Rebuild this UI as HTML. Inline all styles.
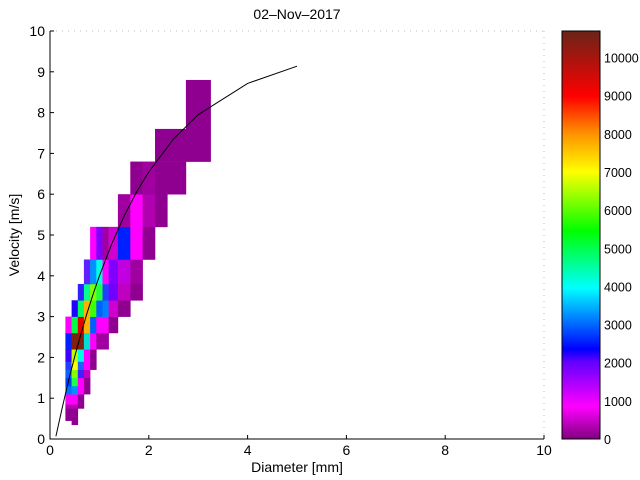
<!DOCTYPE html>
<html><head><meta charset="utf-8"><style>
body{margin:0;background:#fff;width:640px;height:480px;overflow:hidden}
svg{display:block}
text{font-family:"Liberation Sans",sans-serif;font-size:14px;fill:#000}
text.cb{font-size:12.5px}
</style></head><body>
<svg id="s" width="640" height="480" xmlns="http://www.w3.org/2000/svg">
<defs>
<linearGradient id="cb" x1="0" y1="1" x2="0" y2="0">
<stop offset="0" stop-color="#800080"/>
<stop offset="0.08" stop-color="#ff00ff"/>
<stop offset="0.19" stop-color="#6000ff"/>
<stop offset="0.22" stop-color="#0000ff"/>
<stop offset="0.37" stop-color="#00ffff"/>
<stop offset="0.51" stop-color="#00ff00"/>
<stop offset="0.655" stop-color="#ffff00"/>
<stop offset="0.75" stop-color="#ff9000"/>
<stop offset="0.84" stop-color="#ff0000"/>
<stop offset="1" stop-color="#6a2418"/>
</linearGradient>
</defs>
<g id="cells"></g>
<polyline id="curve" fill="none" stroke="#000" stroke-width="1"/>
<line x1="50" y1="31" x2="544" y2="31" stroke="#bbb" stroke-dasharray="1,5"/>
<line x1="544" y1="31" x2="544" y2="439" stroke="#bbb" stroke-dasharray="1,5"/>
<line x1="50" y1="31" x2="50" y2="439.5" stroke="#000"/>
<line x1="49.5" y1="439" x2="544" y2="439" stroke="#000"/>
<g id="ticks" stroke="#000"></g>
<text x="297" y="19" text-anchor="middle">02–Nov–2017</text>
<text x="297" y="472" text-anchor="middle">Diameter [mm]</text>
<text transform="translate(19,235) rotate(-90)" text-anchor="middle">Velocity [m/s]</text>
<rect x="562" y="31" width="38" height="408" fill="url(#cb)" stroke="#000"/>
</svg>
<script>
var s=document.getElementById('cells'),NS="http://www.w3.org/2000/svg";
var cx=[65.4,71.6,77.8,83.9,90.1,96.3,102.5,108.6,117.9,130.3,142.6,155,167.3,185.9,210.6];
var vs=[0.35,0.45,0.55,0.65,0.75,0.85,0.95,1.1,1.3,1.5,1.7,1.9,2.2,2.6,3.0,3.4,3.8,4.4,5.2,6.0,6.8,7.6,8.8];
function Y(v){return 439-v*40.8}
var P='#900090',M='#ff00ff',Q='#b000b0';
var rows=[
[0,1,[P]],
[1,0,[P,P]],
[2,0,[P,P]],
[3,0,[P,P]],
[4,0,[Q,Q,P]],
[5,0,[M,M,P]],
[6,0,[M,M,P]],
[7,0,['#0070ff','#0090ff',M,P]],
[8,0,['#0040ff','#20ff40',M,P]],
[9,0,['#1060ff','#80ff00','#4020ff','#c000c0']],
[10,0,['#2040ff','#ffff00','#2060ff',M,P]],
[11,0,['#4000ff','#c0ff00','#00ffe0',M,P]],
[12,0,['#0020ff','#802010','#802010','#00e0d0',M,'#a000a0','#a000a0']],
[13,0,[M,'#00ff40','#e00000','#ffb000','#0060ff',M,M,P]],
[14,1,['#2000ff','#00ff60','#ffb000','#40ff00','#0060ff','#0080ff','#d000d0',P]],
[15,2,['#3020ff','#00ff90','#80ff00','#20ff40','#2040ff','#7000ff','#c000c0',P]],
[16,3,['#6020ff','#0090ff','#00ffe0',M,'#8000ff','#c000e0','#a000a0']],
[17,4,[M,'#8000ff','#a000a0','#d000d0','#0020ff',M,P]],
[18,8,['#a000a0',M,Q,P]],
[19,9,[P,'#a000a0',P,P]],
[20,11,[P,P,P]],
[21,13,[P]]
];
rows.forEach(function(r){
 var y0=Y(vs[r[0]+1]),y1=Y(vs[r[0]]);
 r[2].forEach(function(c,i){
  var k=r[1]+i,e=document.createElementNS(NS,'rect');
  e.setAttribute('x',cx[k]);e.setAttribute('y',y0);
  e.setAttribute('width',cx[k+1]-cx[k]+0.3);e.setAttribute('height',y1-y0+0.3);
  e.setAttribute('fill',c);s.appendChild(e);
 });
});
var pts=[],Ds=[0.12,0.25,0.375,0.5,0.625,0.75,0.875,1,1.25,1.5,1.75,2,2.5,3,4,5];
Ds.forEach(function(d){var v=9.65-10.3*Math.exp(-0.6*d);pts.push((50+d*49.4).toFixed(1)+','+Y(Math.max(v,0)).toFixed(1));});
document.getElementById('curve').setAttribute('points',pts.join(' '));
var t=document.getElementById('ticks'),svg=document.getElementById('s');
function L(a,b,c,d){var e=document.createElementNS(NS,'line');e.setAttribute('x1',a);e.setAttribute('y1',b);e.setAttribute('x2',c);e.setAttribute('y2',d);t.appendChild(e);}
function T(x,y,str,anc,cl){var e=document.createElementNS(NS,'text');e.setAttribute('x',x);e.setAttribute('y',y);e.setAttribute('text-anchor',anc);if(cl)e.setAttribute('class',cl);e.textContent=str;svg.appendChild(e);}
for(var i=0;i<=10;i++){var y=Y(i);L(50,y,54,y);T(45,y+5,i,'end');}
for(var i=0;i<=10;i+=2){var x=50+i*49.4;L(x,439,x,435);T(x,455,i,'middle');}
for(var k=0;k<=10000;k+=1000){var y=439-k*0.03815;L(562,y,566,y);L(600,y,596,y);T(604,y+5,k,'start','cb');}
</script>
</body></html>
